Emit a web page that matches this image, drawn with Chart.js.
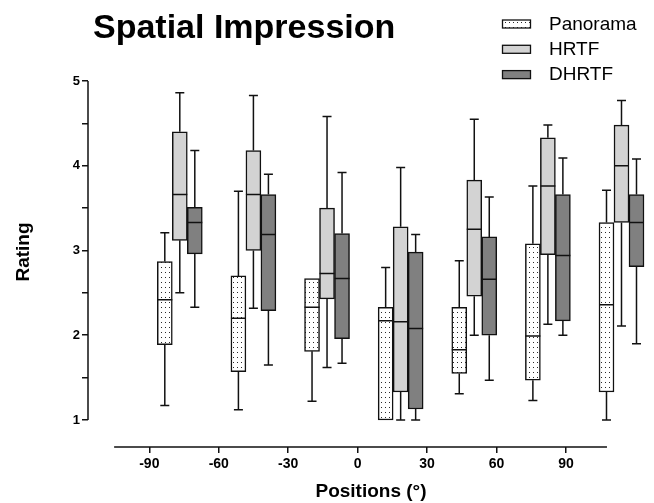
<!DOCTYPE html>
<html><head><meta charset="utf-8">
<script src="https://cdn.jsdelivr.net/npm/chart.js@4.4.1/dist/chart.umd.min.js"></script>
<style>html,body{margin:0;padding:0;background:#fff}#wrap{width:654px;height:503px;position:relative}</style>
</head><body><div id="wrap"><canvas id="c"></canvas></div>
<script>
// ---- data ----
const categories = [-90, -60, -30, 0, 30, 60, 90];
const seriesNames = ['Panorama', 'HRTF', 'DHRTF'];
const panoramaMin    = [1.17, 1.12, 1.22, 1.00, 1.31, 1.23, 1.00];
const panoramaQ1     = [1.89, 1.57, 1.81, 1.00, 1.55, 1.47, 1.33];
const panoramaMedian = [2.42, 2.20, 2.33, 2.17, 1.83, 1.99, 2.36];
const panoramaQ3     = [2.87, 2.70, 2.67, 2.33, 2.33, 3.08, 3.33];
const panoramaMax    = [3.21, 3.70, 2.67, 2.80, 2.88, 3.76, 3.71];
const hrtfMin    = [2.50, 2.32, 1.62, 1.00, 2.00, 2.13, 2.11];
const hrtfQ1     = [3.12, 3.00, 2.43, 1.33, 2.46, 2.95, 3.33];
const hrtfMedian = [3.66, 3.66, 2.73, 2.16, 3.25, 3.76, 4.00];
const hrtfQ3     = [4.40, 4.18, 3.50, 3.28, 3.83, 4.33, 4.48];
const hrtfMax    = [4.86, 4.83, 4.58, 3.98, 4.55, 4.48, 4.77];
const dhrtfMin    = [2.33, 1.65, 1.67, 1.00, 1.47, 2.00, 1.90];
const dhrtfQ1     = [2.96, 2.29, 1.96, 1.13, 2.00, 2.17, 2.81];
const dhrtfMedian = [3.33, 3.19, 2.67, 2.08, 2.66, 2.94, 3.33];
const dhrtfQ3     = [3.51, 3.66, 3.20, 2.98, 3.16, 3.66, 3.66];
const dhrtfMax    = [4.18, 3.90, 3.92, 3.19, 3.63, 4.09, 4.08];
const yTickValues = [1, 1.5, 2, 2.5, 3, 3.5, 4, 4.5, 5];
const xTickValues = [-90, -60, -30, 0, 30, 60, 90];

// ---- styling / layout config ----
const INK = '#111111';
const FONT = '"Liberation Sans", Arial, Helvetica, sans-serif';
const xAxisLineRange = [-105.2, 107.7];

function dotPattern() {
  const c = document.createElement('canvas');
  c.width = 4; c.height = 5;
  const g = c.getContext('2d');
  g.fillStyle = '#ffffff'; g.fillRect(0, 0, 4, 5);
  g.fillStyle = '#2a2a2a'; g.fillRect(1, 2, 1, 1);
  return g.createPattern(c, 'repeat');
}
const fills = [dotPattern(), '#d3d3d3', '#808080'];
const statsList = [
  {min: panoramaMin, q1: panoramaQ1, med: panoramaMedian, q3: panoramaQ3, max: panoramaMax},
  {min: hrtfMin, q1: hrtfQ1, med: hrtfMedian, q3: hrtfQ3, max: hrtfMax},
  {min: dhrtfMin, q1: dhrtfQ1, med: dhrtfMedian, q3: dhrtfQ3, max: dhrtfMax}
];

const datasets = seriesNames.map((name, s) => ({
  label: name,
  data: categories.map((c, i) => ({x: i, y: [statsList[s].q1[i], statsList[s].q3[i]]})),
  backgroundColor: fills[s],
  borderColor: INK,
  borderWidth: 1.5,
  borderSkipped: false,
  barThickness: 15,
  xAxisID: 'xb',
  yAxisID: 'y'
}));

const boxPlugin = {
  id: 'boxExtras',
  afterDatasetsDraw(chart) {
    const ctx = chart.ctx;
    const ys = chart.scales.y;
    ctx.save();
    ctx.strokeStyle = INK;
    ctx.lineWidth = 1.5;
    chart.data.datasets.forEach((ds, s) => {
      const meta = chart.getDatasetMeta(s);
      const st = statsList[s];
      meta.data.forEach((bar, i) => {
        const {x, width} = bar.getProps(['x', 'width'], true);
        const yMed = ys.getPixelForValue(st.med[i]);
        const yQ1 = ys.getPixelForValue(st.q1[i]);
        const yQ3 = ys.getPixelForValue(st.q3[i]);
        const yMin = ys.getPixelForValue(st.min[i]);
        const yMax = ys.getPixelForValue(st.max[i]);
        const cap = 4.5;
        ctx.beginPath();
        ctx.moveTo(x - width / 2, yMed); ctx.lineTo(x + width / 2, yMed);
        if (yMax < yQ3 - 0.5) {
          ctx.moveTo(x, yQ3); ctx.lineTo(x, yMax);
          ctx.moveTo(x - cap, yMax); ctx.lineTo(x + cap, yMax);
        }
        if (yMin > yQ1 + 0.5) {
          ctx.moveTo(x, yQ1); ctx.lineTo(x, yMin);
          ctx.moveTo(x - cap, yMin); ctx.lineTo(x + cap, yMin);
        }
        ctx.stroke();
      });
    });
    ctx.restore();
  },
  afterDraw(chart) {
    const ctx = chart.ctx;
    const ys = chart.scales.y, xs = chart.scales.x;
    const area = chart.chartArea;
    ctx.save();
    ctx.strokeStyle = INK;
    ctx.lineWidth = 1.5;
    ctx.beginPath();
    ctx.moveTo(area.left, ys.getPixelForValue(yTickValues[0]));
    ctx.lineTo(area.left, ys.getPixelForValue(yTickValues[yTickValues.length - 1]));
    ctx.moveTo(xs.getPixelForValue(xAxisLineRange[0]), area.bottom);
    ctx.lineTo(xs.getPixelForValue(xAxisLineRange[1]), area.bottom);
    ctx.stroke();

    ctx.fillStyle = '#000';
    ctx.textAlign = 'left';
    ctx.textBaseline = 'alphabetic';
    ctx.font = 'bold 34px ' + FONT;
    ctx.fillText('Spatial Impression', 93, 38);

    ctx.save();
    ctx.translate(29, 252);
    ctx.rotate(-Math.PI / 2);
    ctx.textAlign = 'center';
    ctx.font = 'bold 19px ' + FONT;
    ctx.fillText('Rating', 0, 0);
    ctx.restore();

    ctx.font = '19px ' + FONT;
    ctx.textAlign = 'left';
    seriesNames.forEach((name, s) => {
      const base = 29.5 + s * 25.3;
      ctx.fillStyle = fills[s];
      ctx.fillRect(502, base - 10, 29, 9);
      ctx.lineWidth = 1.3;
      ctx.strokeStyle = INK;
      ctx.strokeRect(502.5, base - 9.5, 28, 8);
      ctx.fillStyle = '#000';
      ctx.fillText(name, 549, base);
    });
    ctx.restore();
  }
};

new Chart(document.getElementById('c'), {
  type: 'bar',
  data: {datasets},
  plugins: [boxPlugin],
  options: {
    responsive: true,
    maintainAspectRatio: false,
    animation: false,
    layout: {padding: {top: 81, left: 0, right: 0, bottom: 0}},
    plugins: {legend: {display: false}, tooltip: {enabled: false}, title: {display: false}},
    scales: {
      xb: {
        type: 'linear', display: false, min: -1.247, max: 6.4415, offset: false,
        grid: {display: false, offset: false}
      },
      x: {
        type: 'linear', position: 'bottom', min: -116.48, max: 128.01, offset: false,
        afterBuildTicks: (sc) => { sc.ticks = xTickValues.map(v => ({value: v})); },
        afterFit: (sc) => { sc.height = 56; },
        border: {display: false},
        grid: {display: true, offset: false, drawOnChartArea: false, drawTicks: true, tickLength: 6, color: INK, lineWidth: 1.5},
        ticks: {color: '#000', font: {family: FONT, weight: 'bold', size: 14}, padding: 3, maxRotation: 0,
          callback: (v) => String(v)},
        title: {display: true, text: 'Positions (°)', color: '#000', font: {family: FONT, weight: 'bold', size: 19}, padding: {top: 2, bottom: 0}}
      },
      y: {
        type: 'linear', position: 'left', min: 0.6814, max: 5,
        afterBuildTicks: (sc) => { sc.ticks = yTickValues.map(v => ({value: v})); },
        afterFit: (sc) => { sc.width = 88; },
        border: {display: false},
        grid: {display: true, drawOnChartArea: false, drawTicks: true, tickLength: 6, color: INK, lineWidth: 1.5},
        ticks: {color: '#000', font: {family: FONT, weight: 'bold', size: 13}, padding: 2,
          callback: (v) => Number.isInteger(v) ? String(v) : ''}
      }
    }
  }
});
</script>
</body></html>
